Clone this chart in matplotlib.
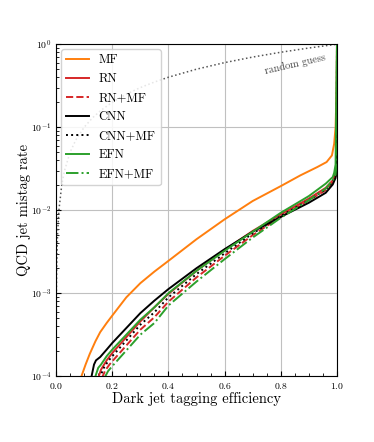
import numpy as np
import matplotlib
matplotlib.use('Agg')
import matplotlib.pyplot as plt

plt.rcParams['font.family'] = 'serif'
plt.rcParams['font.serif'] = ['cmr10']
plt.rcParams['mathtext.fontset'] = 'cm'
plt.rcParams['axes.formatter.use_mathtext'] = True
plt.rcParams['axes.unicode_minus'] = False

# ROC curves: signal efficiency vs background mistag rate
mf_eff = [0.088, 0.105, 0.12, 0.14, 0.157, 0.18, 0.2, 0.25, 0.3, 0.35, 0.4, 0.5, 0.6,
          0.7, 0.8, 0.87, 0.93, 0.963, 0.982, 0.99, 0.995, 0.999, 1.0]
mf_rate = [9.5e-5, 1.38e-4, 1.86e-4, 2.63e-4, 3.39e-4, 4.37e-4, 5.37e-4, 8.9e-4, 1.32e-3,
           1.82e-3, 2.45e-3, 4.47e-3, 7.76e-3, 1.29e-2, 1.95e-2, 2.63e-2, 3.31e-2, 3.8e-2,
           4.57e-2, 6.31e-2, 0.1, 0.316, 1.0]

rn_eff = [0.15, 0.16, 0.18, 0.2, 0.25, 0.3, 0.35, 0.4, 0.5, 0.6, 0.7, 0.8, 0.9, 0.96,
          0.985, 0.995, 0.999, 1.0]
rn_rate = [9.5e-5, 1.2e-4, 1.55e-4, 1.9e-4, 2.95e-4, 4.57e-4, 6.76e-4, 9.8e-4, 1.86e-3,
           3.31e-3, 5.62e-3, 8.9e-3, 1.38e-2, 1.86e-2, 2.29e-2, 2.69e-2, 3.55e-2, 1.0]

rnmf_eff = [0.163, 0.175, 0.19, 0.2, 0.25, 0.3, 0.35, 0.4, 0.5, 0.6, 0.7, 0.8, 0.9, 0.96,
            0.985, 0.995, 0.999, 1.0]
rnmf_rate = [9.5e-5, 1.17e-4, 1.38e-4, 1.51e-4, 2.34e-4, 3.63e-4, 5.13e-4, 7.9e-4, 1.55e-3,
             2.82e-3, 5.0e-3, 8.3e-3, 1.32e-2, 1.74e-2, 2.19e-2, 2.57e-2, 3.55e-2, 1.0]

cnn_eff = [0.125, 0.135, 0.142, 0.157, 0.18, 0.2, 0.25, 0.3, 0.35, 0.4, 0.5, 0.6, 0.7,
           0.8, 0.9, 0.96, 0.985, 0.995, 0.999, 1.0]
cnn_rate = [9.5e-5, 1.38e-4, 1.55e-4, 1.70e-4, 2.09e-4, 2.51e-4, 3.80e-4, 5.75e-4, 8.13e-4,
            1.12e-3, 2.0e-3, 3.39e-3, 5.5e-3, 8.3e-3, 1.23e-2, 1.62e-2, 2.04e-2, 2.45e-2,
            3.55e-2, 1.0]

cnnmf_eff = [0.155, 0.17, 0.185, 0.2, 0.25, 0.3, 0.35, 0.4, 0.5, 0.6, 0.7, 0.8, 0.9, 0.96,
             0.985, 0.995, 0.999, 1.0]
cnnmf_rate = [9.5e-5, 1.26e-4, 1.51e-4, 1.74e-4, 2.69e-4, 4.17e-4, 5.89e-4, 8.9e-4, 1.7e-3,
              3.02e-3, 5.25e-3, 8.5e-3, 1.32e-2, 1.78e-2, 2.19e-2, 2.57e-2, 3.55e-2, 1.0]

efn_eff = [0.138, 0.15, 0.16, 0.18, 0.2, 0.25, 0.3, 0.35, 0.4, 0.5, 0.6, 0.7, 0.8, 0.9,
           0.96, 0.985, 0.99, 0.995, 1.0]
efn_rate = [9.5e-5, 1.26e-4, 1.38e-4, 1.74e-4, 2.09e-4, 3.16e-4, 4.79e-4, 6.76e-4, 1.0e-3,
            1.86e-3, 3.24e-3, 5.5e-3, 9.3e-3, 1.48e-2, 2.09e-2, 2.51e-2, 2.82e-2, 3.55e-2, 1.0]

efnmf_eff = [0.172, 0.185, 0.2, 0.25, 0.3, 0.35, 0.4, 0.5, 0.6, 0.7, 0.8, 0.9, 0.96, 0.985,
             0.995, 0.999, 1.0]
efnmf_rate = [9.5e-5, 1.15e-4, 1.32e-4, 2.04e-4, 3.16e-4, 4.37e-4, 7.1e-4, 1.38e-3, 2.57e-3,
              4.68e-3, 8.1e-3, 1.32e-2, 1.82e-2, 2.29e-2, 2.69e-2, 3.55e-2, 1.0]

# random guess: mistag rate equals efficiency
random_eff = [1e-4, 3e-4, 1e-3, 2e-3, 5e-3, 0.01, 0.02, 0.03, 0.05, 0.07, 0.1, 0.13, 0.16,
              0.2, 0.25, 0.3, 0.35, 0.4, 0.5, 0.6, 0.7, 0.8, 0.9, 1.0]

fig = plt.figure(figsize=(3.74, 4.42), dpi=100)
ax = fig.add_axes([0.150, 0.149, 0.751, 0.751])

ax.plot(random_eff, random_eff, ls=':', color='#555555', lw=1.1)
ax.plot(mf_eff, mf_rate, color='#ff7f0e', lw=1.4, label='MF')
ax.plot(rn_eff, rn_rate, color='#d62728', lw=1.4, label='RN')
ax.plot(rnmf_eff, rnmf_rate, color='#d62728', lw=1.4, ls='--', label='RN+MF')
ax.plot(cnn_eff, cnn_rate, color='black', lw=1.4, label='CNN')
ax.plot(cnnmf_eff, cnnmf_rate, color='black', lw=1.4, ls=':', label='CNN+MF')
ax.plot(efn_eff, efn_rate, color='#2ca02c', lw=1.4, label='EFN')
ax.plot(efnmf_eff, efnmf_rate, color='#2ca02c', lw=1.4, ls='-.', label='EFN+MF')

ax.text(0.85, 0.58, 'random guess', rotation=13, ha='center', va='center',
        fontsize=7.5, color='#444444')

ax.set_yscale('log')
ax.set_xlim(0, 1)
ax.set_ylim(1e-4, 1)
ax.set_xticks([0.0, 0.2, 0.4, 0.6, 0.8, 1.0])
ax.set_xticks(np.arange(0, 1.0001, 0.05), minor=True)
ax.tick_params(which='both', direction='in', labelsize=7)
ax.tick_params(which='major', length=3.5)
ax.tick_params(which='minor', length=2)
ax.grid(True, which='major', color='#c0c0c0', lw=0.8)

ax.set_xlabel('Dark jet tagging efficiency', fontsize=10.5, labelpad=1)
ax.set_ylabel('QCD jet mistag rate', fontsize=10.5, labelpad=0)

ax.legend(loc='upper left', fontsize=9, labelspacing=0.55, handlelength=1.8,
          framealpha=0.85, borderaxespad=0.4)

fig.savefig('out.png', dpi=100)
